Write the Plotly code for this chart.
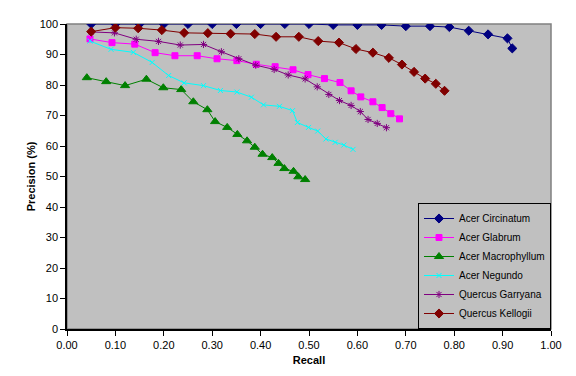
import plotly.graph_objects as go

circ_r = [0.05,0.10,0.15,0.20,0.25,0.30,0.35,0.40,0.45,0.50,0.55,0.60,0.65,0.70,0.75,0.79,0.83,0.87,0.91,0.92]
circ_p = [100,100,100,100,100,100,100,100,100,100,99.7,99.7,99.7,99.3,99.3,99.0,97.8,96.6,95.3,92.0]

glab_r = [0.0475,0.093,0.140,0.182,0.223,0.269,0.310,0.351,0.391,0.430,0.467,0.498,0.532,0.564,0.587,0.607,0.632,0.651,0.669,0.687]
glab_p = [95.1,93.9,93.4,90.6,89.6,89.6,88.6,88.0,86.8,86.0,85.0,83.4,82.1,80.8,78.1,76.1,74.5,72.6,70.6,68.9]

macro_r = [0.041,0.081,0.120,0.164,0.199,0.236,0.261,0.290,0.306,0.331,0.352,0.372,0.388,0.404,0.424,0.437,0.449,0.468,0.478,0.492]
macro_p = [82.4,81.1,79.8,81.9,79.1,78.5,74.5,71.9,68.0,66.1,63.8,61.7,59.6,57.3,56.2,54.3,52.6,51.7,49.9,49.0]

neg_r = [0.0475,0.091,0.137,0.176,0.210,0.242,0.282,0.317,0.351,0.381,0.406,0.439,0.466,0.476,0.499,0.518,0.535,0.554,0.572,0.591]
neg_p = [94.4,91.7,90.7,87.4,83.1,80.7,79.8,78.2,77.7,76.0,73.5,73.0,71.6,67.7,66.1,64.9,62.3,61.2,60.3,58.9]

garr_r = [0.050,0.098,0.143,0.189,0.234,0.282,0.319,0.355,0.390,0.428,0.457,0.492,0.517,0.541,0.563,0.587,0.606,0.622,0.641,0.660]
garr_p = [97.4,97.1,95.0,94.3,93.1,93.3,90.9,88.6,86.5,85.1,83.3,82.0,79.4,76.9,74.9,73.3,71.3,68.7,67.4,66.0]

kell_r = [0.05,0.10,0.147,0.196,0.242,0.291,0.338,0.388,0.432,0.479,0.519,0.562,0.597,0.632,0.665,0.692,0.717,0.740,0.762,0.780]
kell_p = [97.5,98.8,98.6,98.0,97.1,97.0,96.8,96.7,95.8,95.8,94.4,93.9,91.8,90.6,88.9,86.7,84.3,82.1,80.4,78.1]

x_ticks = [0.0,0.1,0.2,0.3,0.4,0.5,0.6,0.7,0.8,0.9,1.0]
x_tick_labels = ["0.00","0.10","0.20","0.30","0.40","0.50","0.60","0.70","0.80","0.90","1.00"]

series = [
    ("Acer Circinatum", circ_r, circ_p, "#000080", "diamond", 7),
    ("Acer Glabrum", glab_r, glab_p, "#FF00FF", "square", 6),
    ("Acer Macrophyllum", macro_r, macro_p, "#008000", "triangle-up", 8),
    ("Acer Negundo", neg_r, neg_p, "#00FFFF", "x-thin", 5),
    ("Quercus Garryana", garr_r, garr_p, "#800080", "asterisk", 6),
    ("Quercus Kellogii", kell_r, kell_p, "#800000", "diamond", 7),
]

fig = go.Figure()
for name, xr, yp, col, sym, sz in series:
    fig.add_trace(go.Scatter(
        x=xr, y=yp, name=name, mode="lines+markers",
        line=dict(color=col, width=1),
        marker=dict(symbol=sym, size=sz, color=col,
                    line=dict(color=col, width=1)),
    ))

fig.add_shape(type="rect", xref="paper", yref="paper", x0=0, x1=1, y0=0, y1=1,
              line=dict(color="#808080", width=1.5), layer="below")

# page body has an 8px default margin, so the figure is offset by 8px
fig.update_layout(
    width=568, height=368,
    margin=dict(l=59, r=25, t=16, b=47),
    paper_bgcolor="white",
    plot_bgcolor="#C0C0C0",
    font=dict(family="Liberation Sans, Arial", size=11, color="black"),
    showlegend=True,
    legend=dict(
        x=1, y=0, xanchor="right", yanchor="bottom",
        bgcolor="#C0C0C0", bordercolor="black", borderwidth=1,
        font=dict(size=10), tracegroupgap=0, itemwidth=30,
    ),
)
fig.update_xaxes(
    range=[0, 1], tickvals=x_ticks, ticktext=x_tick_labels, automargin=False,
    showgrid=False, zeroline=False, showline=True, linecolor="black", linewidth=1.5,
    ticks="outside", ticklen=5, tickcolor="black",
    title=dict(text="<b>Recall</b>", font=dict(size=11), standoff=6),
)
fig.update_yaxes(
    range=[0, 100], dtick=10, automargin=False,
    showgrid=False, zeroline=False, showline=True, linecolor="black", linewidth=1.5,
    ticks="outside", ticklen=5, tickcolor="black",
    title=dict(text="<b>Precision (%)</b>", font=dict(size=11), standoff=2),
)

fig.write_html("out.html")
